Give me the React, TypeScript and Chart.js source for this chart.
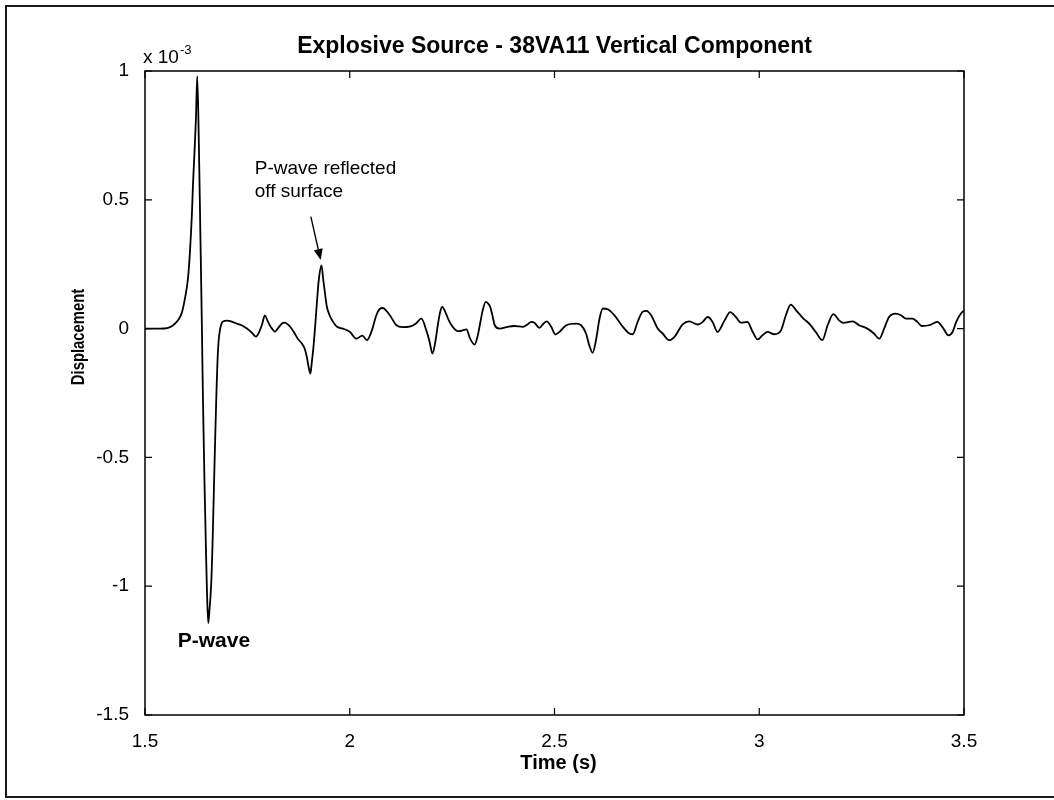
import React, { useEffect, useRef } from "react";
import { Chart, registerables } from "chart.js";

Chart.register(...registerables);

// Vertical-component record, time in seconds
const timeS = [
  1.5, 1.537, 1.554, 1.568, 1.58, 1.59,
  1.5976, 1.6049, 1.6098, 1.6146, 1.6171, 1.6207, 1.6244, 1.6276, 1.6317, 1.6354,
  1.639, 1.6415, 1.6451, 1.6488, 1.6512, 1.6544, 1.6573, 1.6598, 1.6622, 1.6646,
  1.6671, 1.6695, 1.672, 1.6744, 1.6768, 1.6793, 1.6817, 1.6854,
  1.69, 1.7, 1.712, 1.724, 1.737, 1.749, 1.761, 1.771,
  1.778, 1.785, 1.793, 1.799, 1.805, 1.812, 1.817, 1.824, 1.834, 1.841,
  1.849, 1.854, 1.863, 1.873, 1.883, 1.89, 1.895, 1.899, 1.904, 1.907,
  1.911, 1.916, 1.92, 1.924, 1.931, 1.935, 1.939, 1.944, 1.951, 1.959,
  1.968, 1.983, 2.0, 2.016, 2.031, 2.042, 2.053, 2.065, 2.073, 2.081,
  2.089, 2.098, 2.114, 2.129, 2.146, 2.161, 2.175, 2.187, 2.195, 2.202,
  2.209, 2.215, 2.221, 2.226, 2.233, 2.24, 2.249, 2.26, 2.268, 2.276,
  2.285, 2.294, 2.305, 2.312, 2.317, 2.324, 2.332, 2.338, 2.343, 2.349,
  2.354, 2.366, 2.386, 2.402, 2.423, 2.434, 2.443, 2.451, 2.463, 2.473,
  2.481, 2.492, 2.502, 2.512, 2.529, 2.553, 2.565, 2.577, 2.585, 2.593,
  2.602, 2.61, 2.618, 2.63, 2.646, 2.667, 2.683, 2.691, 2.703, 2.715,
  2.724, 2.736, 2.752, 2.764, 2.78, 2.793, 2.813, 2.829, 2.85, 2.862,
  2.874, 2.886, 2.898, 2.915, 2.929, 2.943, 2.955, 2.971, 2.984, 2.996,
  3.008, 3.02, 3.037, 3.053, 3.065, 3.077, 3.09, 3.106, 3.122, 3.138,
  3.154, 3.167, 3.181, 3.195, 3.205, 3.228, 3.244, 3.264, 3.28, 3.293,
  3.305, 3.317, 3.333, 3.346, 3.358, 3.374, 3.386, 3.397, 3.415, 3.435,
  3.447, 3.462, 3.472, 3.481, 3.492, 3.5,
];

// Displacement in units of 1e-3
const displacementE3 = [
  0, 0, 0.002, 0.012, 0.031, 0.062,
  0.117, 0.194, 0.299, 0.447, 0.556, 0.68, 0.816, 0.98, 0.7, 0.35,
  0, -0.272, -0.583, -0.855, -1.011, -1.143, -1.096, -1.043, -0.972, -0.855,
  -0.7, -0.544, -0.389, -0.253, -0.136, -0.058, -0.019, 0.012,
  0.027, 0.031, 0.027, 0.019, 0.012, 0, -0.016, -0.031,
  -0.016, 0.012, 0.051, 0.031, 0.012, -0.004, -0.012, 0, 0.019, 0.023,
  0.016, 0.008, -0.012, -0.039, -0.058, -0.078, -0.109, -0.144, -0.175, -0.136,
  -0.078, 0.019, 0.105, 0.183, 0.245, 0.194, 0.144, 0.086, 0.051, 0.027,
  0.008, 0, -0.012, -0.039, -0.027, -0.045, -0.012, 0.052, 0.076, 0.08,
  0.07, 0.052, 0.013, 0.006, 0.008, 0.019, 0.039, -0.007, -0.051, -0.097,
  -0.051, 0.013, 0.066, 0.084, 0.066, 0.039, 0.012, -0.007, -0.01, -0.007,
  -0.003, -0.039, -0.062, -0.031, 0.008, 0.066, 0.104, 0.097, 0.084, 0.047,
  0.013, 0, 0.007, 0.01, 0.007, 0.016, 0.026, 0.023, 0.003, 0.019,
  0.028, 0.007, -0.023, -0.013, 0.013, 0.019, 0.013, -0.019, -0.065, -0.094,
  -0.039, 0.039, 0.078, 0.075, 0.052, 0.007, -0.019, -0.022, 0.026, 0.065,
  0.069, 0.052, 0, -0.019, -0.045, -0.032, 0.016, 0.028, 0.016, 0.026,
  0.045, 0.026, -0.013, 0.031, 0.064, 0.045, 0.023, 0.026, -0.013, -0.042,
  -0.026, -0.013, -0.022, -0.007, 0.052, 0.093, 0.071, 0.042, 0.019, -0.013,
  -0.045, 0.013, 0.056, 0.032, 0.022, 0.028, 0.013, 0, -0.019, -0.039,
  0, 0.045, 0.058, 0.052, 0.039, 0.039, 0.026, 0.01, 0.013, 0.026,
  0.007, -0.026, -0.013, 0.026, 0.058, 0.07,
];

const xTickValues = [1.5, 2, 2.5, 3, 3.5];
const xTickLabels = ["1.5", "2", "2.5", "3", "3.5"];
const yTickValues = [-1.5, -1, -0.5, 0, 0.5, 1];
const yTickLabels = ["-1.5", "-1", "-0.5", "0", "0.5", "1"];

const TITLE = "Explosive Source - 38VA11 Vertical Component";
const X_LABEL = "Time (s)";
const Y_LABEL = "Displacement";
const EXPONENT_BASE = "x 10";
const EXPONENT_POWER = "-3";

// Annotation anchors, in data units (s, 1e-3)
const pWaveLabel = { text: "P-wave", x: 1.58, y: -1.236 };
const reflectedLines = ["P-wave reflected", "off surface"];
const reflectedLabelAt = { x: 1.768, y: [0.599, 0.509] };
const arrowFrom = { x: 1.905, y: 0.435 };
const arrowTo = { x: 1.929, y: 0.266 };

const FONT = "'Liberation Sans', Arial, Helvetica, sans-serif";
const TICK_IN = 7;

const labelFor = (values: number[], labels: string[], v: number) => {
  const k = values.findIndex((t) => Math.abs(t - v) < 1e-9);
  return k >= 0 ? labels[k] : "";
};

// condensed text, used for the vertical axis label
const drawCondensed = (ctx: CanvasRenderingContext2D, text: string, squeeze: number) => {
  ctx.save();
  ctx.scale(squeeze, 1);
  ctx.fillText(text, 0, 0);
  ctx.restore();
};

const figureDecor = {
  id: "figureDecor",
  beforeDraw(chart: any) {
    const { ctx, width, height } = chart;
    ctx.save();
    ctx.fillStyle = "#fff";
    ctx.fillRect(0, 0, width, height);
    // page frame (left, top and bottom edges)
    ctx.strokeStyle = "#1a1a1a";
    ctx.lineWidth = 2;
    ctx.beginPath();
    ctx.moveTo(width + 5, 6);
    ctx.lineTo(6, 6);
    ctx.lineTo(6, 797);
    ctx.lineTo(width + 5, 797);
    ctx.stroke();
    ctx.restore();
  },
  afterDraw(chart: any) {
    const { ctx, chartArea: a } = chart;
    const xs = chart.scales.x;
    const ys = chart.scales.y;
    ctx.save();
    ctx.strokeStyle = "#000";
    ctx.fillStyle = "#000";
    ctx.lineWidth = 1.5;
    ctx.strokeRect(a.left, a.top, a.right - a.left, a.bottom - a.top);

    // inward ticks on all four sides
    ctx.beginPath();
    xs.ticks.forEach((t: any) => {
      const px = xs.getPixelForValue(t.value);
      ctx.moveTo(px, a.bottom);
      ctx.lineTo(px, a.bottom - TICK_IN);
      ctx.moveTo(px, a.top);
      ctx.lineTo(px, a.top + TICK_IN);
    });
    ys.ticks.forEach((t: any) => {
      const py = ys.getPixelForValue(t.value);
      ctx.moveTo(a.left, py);
      ctx.lineTo(a.left + TICK_IN, py);
      ctx.moveTo(a.right, py);
      ctx.lineTo(a.right - TICK_IN, py);
    });
    ctx.lineWidth = 1.2;
    ctx.stroke();

    const cx = (a.left + a.right) / 2;

    // title
    ctx.textBaseline = "alphabetic";
    ctx.textAlign = "center";
    ctx.font = `bold 23px ${FONT}`;
    ctx.fillText(TITLE, cx, 53);

    // x label
    ctx.font = `bold 20px ${FONT}`;
    ctx.fillText(X_LABEL, cx + 4, 769);

    // y label
    ctx.save();
    ctx.translate(79, 337);
    ctx.rotate(-Math.PI / 2);
    ctx.textBaseline = "middle";
    ctx.font = `bold 19px ${FONT}`;
    drawCondensed(ctx, Y_LABEL, 0.78);
    ctx.restore();

    // exponent marker
    ctx.textAlign = "left";
    ctx.font = `19px ${FONT}`;
    ctx.fillText(EXPONENT_BASE, 143, 63);
    const baseW = ctx.measureText(EXPONENT_BASE).width;
    ctx.font = `13px ${FONT}`;
    ctx.fillText(EXPONENT_POWER, 143 + baseW + 1, 54);

    // P-wave label
    ctx.font = `bold 21px ${FONT}`;
    ctx.fillText(
      pWaveLabel.text,
      xs.getPixelForValue(pWaveLabel.x),
      ys.getPixelForValue(pWaveLabel.y)
    );

    // reflected-wave note with arrow
    ctx.font = `19px ${FONT}`;
    reflectedLines.forEach((line, i) => {
      ctx.fillText(
        line,
        xs.getPixelForValue(reflectedLabelAt.x),
        ys.getPixelForValue(reflectedLabelAt.y[i])
      );
    });
    const x0 = xs.getPixelForValue(arrowFrom.x);
    const y0 = ys.getPixelForValue(arrowFrom.y);
    const x1 = xs.getPixelForValue(arrowTo.x);
    const y1 = ys.getPixelForValue(arrowTo.y);
    const ang = Math.atan2(y1 - y0, x1 - x0);
    const headLen = 11;
    const headHalf = 4.5;
    const bx = x1 - headLen * Math.cos(ang);
    const by = y1 - headLen * Math.sin(ang);
    ctx.lineWidth = 1.4;
    ctx.beginPath();
    ctx.moveTo(x0, y0);
    ctx.lineTo(bx, by);
    ctx.stroke();
    ctx.beginPath();
    ctx.moveTo(x1, y1);
    ctx.lineTo(bx + headHalf * Math.sin(ang), by - headHalf * Math.cos(ang));
    ctx.lineTo(bx - headHalf * Math.sin(ang), by + headHalf * Math.cos(ang));
    ctx.closePath();
    ctx.fill();

    ctx.restore();
  },
};

export default function App() {
  const canvasRef = useRef<HTMLCanvasElement | null>(null);

  useEffect(() => {
    const canvas = canvasRef.current;
    if (!canvas) return;
    const points = timeS.map((t, i) => ({ x: t, y: displacementE3[i] }));
    const chart = new Chart(canvas, {
      type: "line",
      data: {
        datasets: [
          {
            data: points,
            borderColor: "#000",
            borderWidth: 1.8,
            pointRadius: 0,
            cubicInterpolationMode: "monotone",
            fill: false,
          },
        ],
      },
      options: {
        responsive: false,
        animation: false,
        devicePixelRatio: 1,
        layout: { padding: { left: 85, right: 90, top: 71, bottom: 45 } },
        plugins: {
          legend: { display: false },
          tooltip: { enabled: false },
          title: { display: false },
        },
        scales: {
          x: {
            type: "linear",
            min: 1.5,
            max: 3.5,
            grid: { display: false },
            border: { display: false },
            ticks: {
              stepSize: 0.5,
              padding: 7,
              maxRotation: 0,
              color: "#000",
              font: { family: FONT, size: 19 },
              callback: (v: any) => labelFor(xTickValues, xTickLabels, Number(v)),
            },
            afterFit: (s: any) => {
              s.height = 40;
            },
          },
          y: {
            type: "linear",
            min: -1.5,
            max: 1,
            grid: { display: false },
            border: { display: false },
            ticks: {
              stepSize: 0.5,
              padding: 8,
              color: "#000",
              font: { family: FONT, size: 19 },
              callback: (v: any) => labelFor(yTickValues, yTickLabels, Number(v)),
            },
            afterFit: (s: any) => {
              s.width = 60;
            },
          },
        },
      },
      plugins: [figureDecor],
    } as any);
    return () => chart.destroy();
  }, []);

  return (
    <div style={{ position: "absolute", left: 0, top: 0, width: 1054, height: 800 }}>
      <canvas ref={canvasRef} width={1054} height={800} style={{ display: "block" }} />
    </div>
  );
}
